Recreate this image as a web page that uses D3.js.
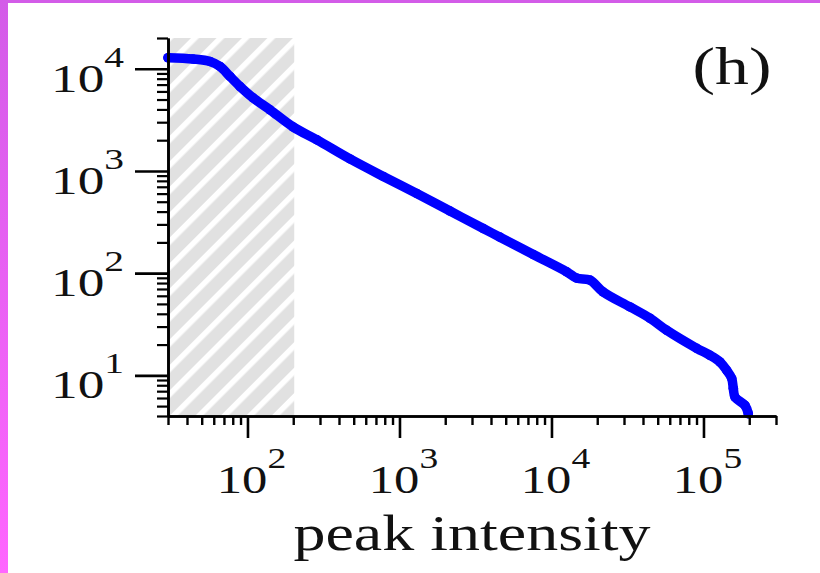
<!DOCTYPE html>
<html><head><meta charset="utf-8">
<script src="https://cdn.jsdelivr.net/npm/d3@7"></script>
<style>html,body{margin:0;padding:0;background:#fff;} svg{display:block;}</style>
</head><body><svg id="c" width="820" height="573"></svg>
<script>
// ---- data ----
const peakIntensity = [30, 43.8, 56.7, 65.9, 76.7, 89.3, 108.7, 140.7, 199.3, 286.7, 472.5, 782.8, 1299, 2150, 3560, 4585, 7594, 12600, 14650, 17920, 21830, 32850, 44480, 57280, 90260, 110400, 128400, 142100, 153300, 157100, 161200, 187600, 197100];
const countAbove    = [12820, 12450, 11790, 10530, 8405, 6706, 5196, 3963, 2700, 2013, 1311, 883, 602, 405, 273, 225, 152, 103, 89.3, 85.4, 65.6, 46.7, 36.2, 27.6, 18.4, 15.7, 13.5, 11.2, 9.35, 7.46, 6.13, 5.08, 4.21];
const xTickExponents = [2, 3, 4, 5];
const yTickExponents = [1, 2, 3, 4];
const xDomain = [30, 3e5];
const yDomain = [4, 2e4];
const shadedRange = [30, 203];
const panelLabel = "(h)";
const xAxisTitle = "peak intensity";

const svg = d3.select("#c");
const defs = svg.append("defs");

// border gradient
const grad = defs.append("linearGradient").attr("id", "bord").attr("x1", 0).attr("y1", 0).attr("x2", 0).attr("y2", 1);
grad.append("stop").attr("offset", "0%").attr("stop-color", "#d35ce8");
grad.append("stop").attr("offset", "100%").attr("stop-color", "#ff66ff");

// hatch pattern
const pat = defs.append("pattern").attr("id", "hatch").attr("patternUnits", "userSpaceOnUse")
  .attr("width", 18).attr("height", 18).attr("patternTransform", "rotate(45)");
pat.append("rect").attr("width", 18).attr("height", 18).attr("fill", "#e1e1e1");
pat.append("rect").attr("x", 0).attr("width", 5.5).attr("height", 18).attr("fill", "#ffffff");

const x = d3.scaleLog().domain(xDomain).range([168, 776]);
const y = d3.scaleLog().domain(yDomain).range([416, 38]);

// shaded region
svg.append("rect")
  .attr("x", x(shadedRange[0])).attr("y", y(yDomain[1]))
  .attr("width", x(shadedRange[1]) - x(shadedRange[0]))
  .attr("height", y(yDomain[0]) - y(yDomain[1]))
  .attr("fill", "url(#hatch)");

// data
const pts = peakIntensity.map((v, i) => [v, countAbove[i]]);
svg.append("path").datum(pts)
  .attr("d", d3.line().x(d => x(d[0])).y(d => y(d[1])).curve(d3.curveCatmullRom.alpha(0.5)))
  .attr("fill", "none").attr("stroke", "#0000ff").attr("stroke-width", 9.5)
  .attr("stroke-linecap", "round").attr("stroke-linejoin", "round");
svg.append("g").selectAll("circle").data(pts).join("circle")
  .attr("cx", d => x(d[0])).attr("cy", d => y(d[1])).attr("r", 4.8).attr("fill", "#0000ff");

// axes
const isPow10 = v => Math.abs(Math.log10(v) - Math.round(Math.log10(v))) < 1e-9;
const xMinor = x.ticks().filter(v => !isPow10(v));
const yMinor = y.ticks().filter(v => !isPow10(v));
const xMajor = xTickExponents.map(e => Math.pow(10, e));
const yMajor = yTickExponents.map(e => Math.pow(10, e));

function styleAxis(g, w) {
  g.selectAll("path.domain").attr("stroke", "#000").attr("stroke-width", 2.6);
  g.selectAll(".tick line").attr("stroke", "#000").attr("stroke-width", w);
  g.selectAll(".tick text").remove();
}
svg.append("g").attr("transform", "translate(0,416)")
  .call(d3.axisBottom(x).tickValues(xMinor).tickSize(9).tickSizeOuter(0).tickFormat(""))
  .call(g => styleAxis(g, 2.4));
svg.append("g").attr("transform", "translate(0,416)")
  .call(d3.axisBottom(x).tickValues(xMajor).tickSize(22).tickSizeOuter(0).tickFormat(""))
  .call(g => styleAxis(g, 2.6));
svg.append("g").attr("transform", "translate(168,0)")
  .call(d3.axisLeft(y).tickValues(yMinor).tickSize(11).tickSizeOuter(0).tickFormat(""))
  .call(g => styleAxis(g, 2.2));
svg.append("g").attr("transform", "translate(168,0)")
  .call(d3.axisLeft(y).tickValues(yMajor).tickSize(33).tickSizeOuter(0).tickFormat(""))
  .call(g => styleAxis(g, 2.6));

const SX = 1.3;
const font = "'Liberation Serif', 'Times New Roman', serif";
function powLabel(tx, ty, e, anchor, size) {
  const t = svg.append("text")
    .attr("transform", `translate(${tx},${ty}) scale(${SX},1)`)
    .attr("text-anchor", anchor).attr("font-family", font).attr("font-size", size).attr("fill", "#111");
  t.append("tspan").text("10");
  t.append("tspan").attr("font-size", size * 0.74).attr("dy", -25).text(e);
}
xTickExponents.forEach(e => powLabel(x(Math.pow(10, e)) + 4, 493, e, "middle", 39));
yTickExponents.forEach(e => powLabel(124, y(Math.pow(10, e)) + 23, e, "end", 41));

svg.append("text")
  .attr("transform", `translate(472,550) scale(1.28,1)`)
  .attr("text-anchor", "middle").attr("font-family", font).attr("font-size", 50).attr("fill", "#111")
  .text(xAxisTitle);
svg.append("text")
  .attr("transform", `translate(732,84) scale(1.3,1)`)
  .attr("text-anchor", "middle").attr("font-family", font).attr("font-size", 52).attr("fill", "#111")
  .text(panelLabel);

// page border
svg.append("rect").attr("x", 0).attr("y", 0).attr("width", 820).attr("height", 3).attr("fill", "#d35ce8");
svg.append("rect").attr("x", 0).attr("y", 0).attr("width", 8).attr("height", 573).attr("fill", "url(#bord)");
</script>
</body></html>
